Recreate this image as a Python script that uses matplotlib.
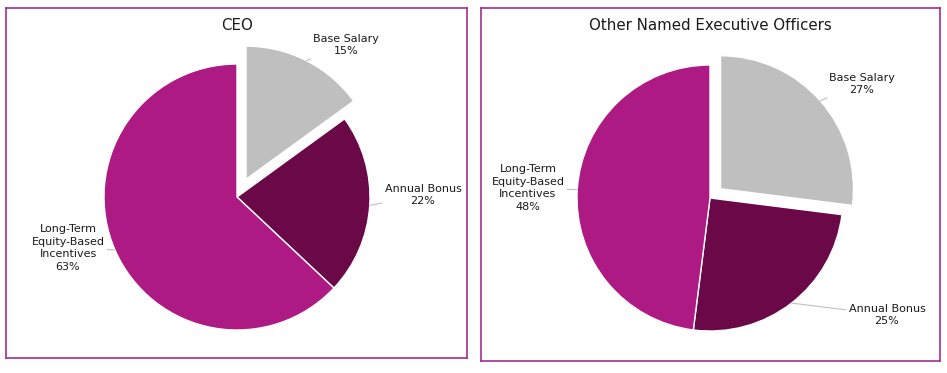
import numpy as np
import matplotlib.pyplot as plt

# pay mix data
labels = ["Base Salary", "Annual Bonus", "Long-Term\nEquity-Based\nIncentives"]
ceo_pct = [15, 22, 63]
neo_pct = [27, 25, 48]
titles = ["CEO", "Other Named Executive Officers"]
colors = ["#BFBFBF", "#6A0848", "#AD1A84"]
border = "#A2308E"

W, H = 947, 373
fig = plt.figure(figsize=(W / 100, H / 100), dpi=100)


def panel(x0, y0, x1, y1):
    # axes placed in image pixel box (y measured from top)
    ax = fig.add_axes([x0 / W, (H - y1) / H, (x1 - x0) / W, (y1 - y0) / H])
    ax.set_xticks([])
    ax.set_yticks([])
    for s in ax.spines.values():
        s.set_color(border)
        s.set_linewidth(1.2)
    return ax


def draw(ax, pct, title, center, explode, label_pos, tx):
    cx, cy = center
    # pie explode is in data units here (pixels)
    wedges, _ = ax.pie(pct, colors=colors, startangle=90, counterclock=False,
                       radius=133, center=(cx, H - cy),
                       explode=[explode, 0, 0], frame=True,
                       wedgeprops=dict(edgecolor="white", linewidth=1))
    for w, lab, p, (lx, ly) in zip(wedges, labels, pct, label_pos):
        mid = np.deg2rad((w.theta1 + w.theta2) / 2)
        px = w.center[0] + w.r * np.cos(mid)
        py = w.center[1] + w.r * np.sin(mid)
        ax.annotate(f"{lab}\n{p}%", xy=(px, py), xytext=(lx, H - ly),
                    ha="center", va="center", fontsize=8, color="#1a1a1a",
                    linespacing=1.3,
                    arrowprops=dict(arrowstyle="-", color="#C0C0C0", lw=0.8,
                                    shrinkA=0, shrinkB=0))
    ax.text(tx, H - 25, title, ha="center", va="center", fontsize=10.8,
            color="#1a1a1a")


ax1 = panel(6, 8, 467, 358)
draw(ax1, ceo_pct, titles[0], (237, 197), 20,
     [(346, 45), (423, 195), (68, 248)], 237)
ax1.set_xlim(6, 467)
ax1.set_ylim(H - 358, H - 8)

ax2 = panel(481, 8, 940, 361)
draw(ax2, neo_pct, titles[1], (710, 198), 14,
     [(862, 84), (887, 315), (528, 188)], 710)
ax2.set_xlim(481, 940)
ax2.set_ylim(H - 361, H - 8)

fig.savefig("out.png", dpi=100)
